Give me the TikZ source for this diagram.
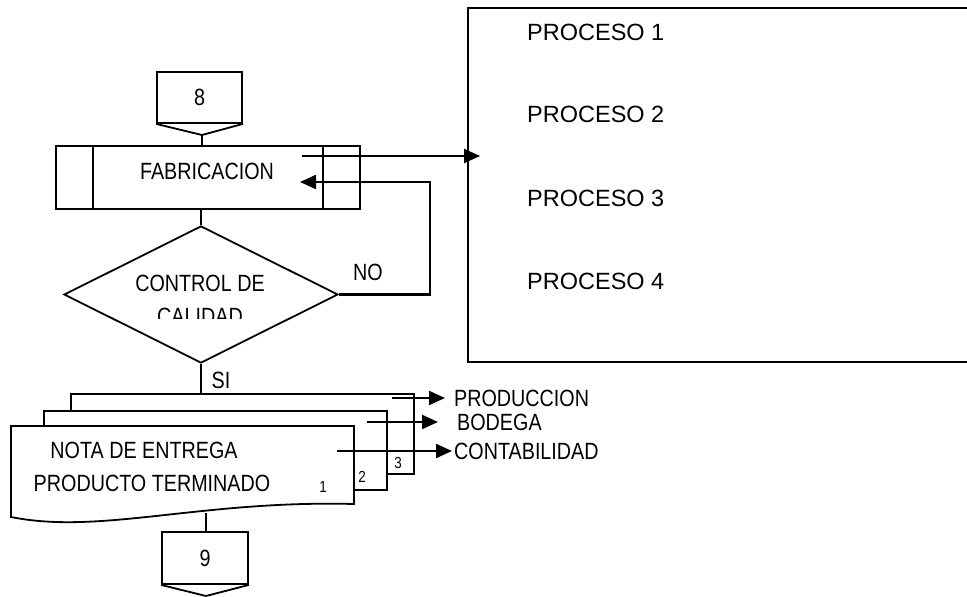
\documentclass[tikz,border=0pt]{standalone}
\usepackage{fontspec}
\setmainfont{Liberation Sans}
\newfontfamily\narrowfont[FakeStretch=0.84]{Liberation Sans}
\usetikzlibrary{shapes.geometric,arrows.meta,positioning}

\tikzset{
  every node/.style={font=\narrowfont\fontsize{23.5}{33}\selectfont},
  shapeline/.style={line width=1.8pt},
  flow/.style={line width=2.2pt, -{Triangle[length=16pt,width=14pt]}},
  lbl/.style={inner sep=0pt, anchor=west},
  sheetno/.style={font=\narrowfont\fontsize{16}{18}\selectfont, inner sep=0pt},
}

\begin{document}
\begin{tikzpicture}[x=1pt, y=-1pt]
  \clip (0,0) rectangle (967,597);
  \fill[white] (0,0) rectangle (967,597);

  % Connector 8
  \node[draw, shapeline, minimum width=85pt, minimum height=51pt, inner sep=0pt] (c8) at (199.5,97.5) {8};
  \draw[shapeline] (c8.south west) -- (202,135) coordinate (c8tip) -- (c8.south east);

  % Fabricacion (predefined process)
  \node[draw, shapeline, minimum width=304pt, minimum height=63pt] (fab) at (208,177.5) {};
  \draw[shapeline] ([xshift=38pt]fab.north west) -- ([xshift=38pt]fab.south west);
  \draw[shapeline] ([xshift=-38pt]fab.north east) -- ([xshift=-38pt]fab.south east);
  \node (fabtext) at (207,171) {FABRICACION};
  \draw[shapeline] (c8tip) -- (c8tip |- fab.north);

  % Control de calidad
  \node[diamond, draw, shapeline, minimum width=274pt, minimum height=137pt, inner sep=0pt] (qc) at (201,294.5) {};
  \draw[shapeline] (qc.north) -- (qc.north |- fab.south);
  \begin{scope}
    \clip (60,240) rectangle (340,318);
    \node[align=center] (qctext) at (200,300) {CONTROL DE\\CALIDAD};
  \end{scope}

  % NO loop
  \coordinate (noend) at (300,182);
  \draw[flow] (qc.east) -- (430,294.5) |- (noend);
  \node (nolabel) at (368,272) {NO};

  % Procesos
  \node[draw, line width=2pt, minimum width=530pt, minimum height=354pt, inner sep=0pt, anchor=north west] (procs) at (467,7) {};
  \foreach \i/\y in {1/32, 2/114, 3/198, 4/281} {
    \node[lbl, font=\normalfont\fontsize{23.5}{28}\selectfont] (p\i) at (527,\y) {PROCESO \i};
  }
  \coordinate (fabout) at (302,156);
  \draw[flow] (fabout) -- ([xshift=13pt]procs.west |- fabout);

  % Nota de entrega (3 copies)
  \node[draw, shapeline, fill=white, minimum width=343pt, minimum height=80pt] (sh3) at (242.5,434) {};
  \node[draw, shapeline, fill=white, minimum width=343pt, minimum height=79pt] (sh2) at (215.5,450.5) {};
  \draw[shapeline, fill=white] (11,426) -- (354,426) -- (354,504)
    .. controls (200,500) and (100,535) .. (11,517) -- cycle;
  \coordinate (sh1bot) at (206,513);
  \draw[shapeline] (qc.south) -- (qc.south |- sh3.north);
  \node (si) at (221,380) {SI};
  \node (nota1) at (144,450) {NOTA DE ENTREGA};
  \node (nota2) at (152,483) {PRODUCTO TERMINADO};
  \node[sheetno] (n1) at (323,487) {1};
  \node[sheetno] (n2) at (362,477) {2};
  \node[sheetno] (n3) at (398,463) {3};

  % Distribucion
  \node[lbl] (prod) at (454,398) {PRODUCCION};
  \node[lbl] (bod) at (457,422) {BODEGA};
  \node[lbl] (cont) at (454,451) {CONTABILIDAD};
  \coordinate (o3) at (392,398);
  \coordinate (o2) at (367,422);
  \coordinate (o1) at (337,451);
  \draw[flow] (o3) -- ([xshift=-9pt]prod.west);
  \draw[flow] (o2) -- ([xshift=-19pt]bod.west);
  \draw[flow] (o1) -- ([xshift=-2pt]cont.west);

  % Connector 9
  \node[draw, shapeline, minimum width=86pt, minimum height=52pt, inner sep=0pt] (c9) at (205,558) {9};
  \draw[shapeline] (c9.south west) -- (206,596) -- (c9.south east);
  \draw[shapeline] (sh1bot) -- (sh1bot |- c9.north);
\end{tikzpicture}
\end{document}
